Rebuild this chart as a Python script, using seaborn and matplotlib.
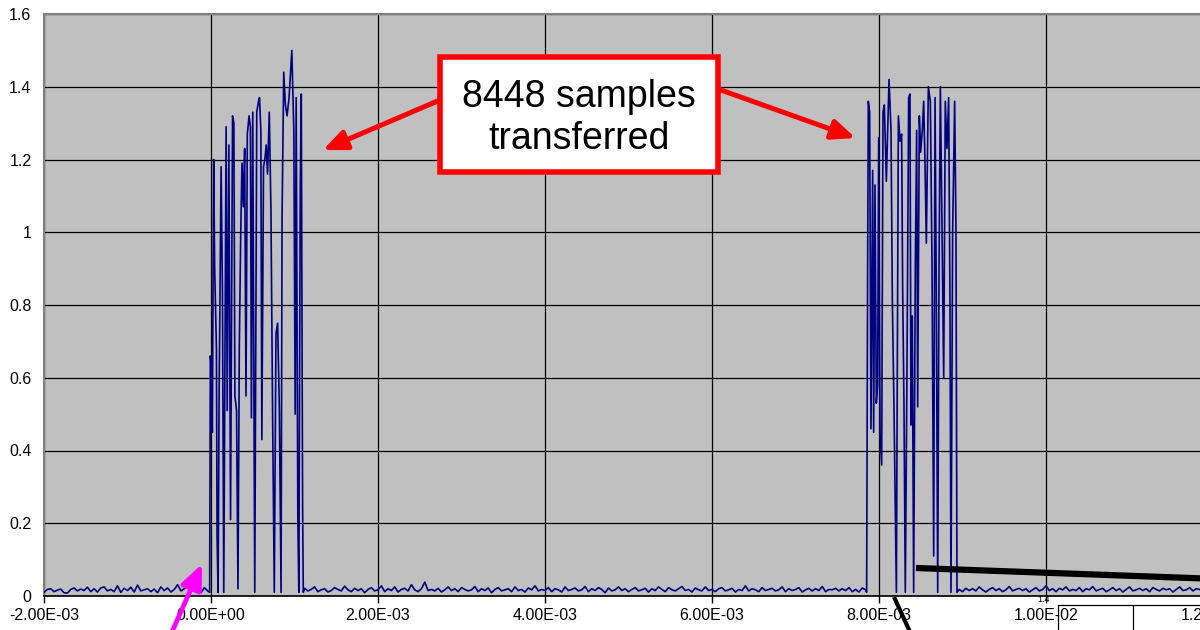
import matplotlib
matplotlib.use("Agg")
import matplotlib.pyplot as plt
from matplotlib.patches import Rectangle
from matplotlib.lines import Line2D
import numpy as np
import pandas as pd
import seaborn as sns

# baseline noise between the bursts (thousandths)
noise_pre = [10, 18, 20, 12, 16, 19, 9, 8, 18, 22, 14, 19, 15, 24, 12, 20, 11, 22, 25, 14,
             18, 12, 28, 10, 21, 15, 24, 11, 30, 14, 17, 20, 12, 19, 9, 25, 15, 22, 11, 18,
             31, 14, 20, 27, 12, 34, 17, 9, 23, 14]
noise_mid = [21, 14, 18, 25, 12, 17, 20, 11, 15, 23, 18, 14, 27, 17, 12, 21, 15, 20, 9, 18,
             23, 14, 17, 28, 12, 20, 15, 25, 11, 18, 21, 14, 31, 17, 12, 20, 38, 15, 18, 14,
             21, 11, 17, 25, 15, 20, 12, 23, 18, 14, 17, 26, 12, 20, 15, 22, 9, 18, 23, 14,
             17, 20, 12, 25, 15, 18, 11, 22, 17, 28, 14, 18, 15, 23, 12, 20, 17, 11, 25, 15,
             18, 22, 14, 17, 26, 12, 20, 15, 23, 18, 9, 22, 14, 17, 25, 15, 20, 12, 18, 23,
             14, 17, 21, 11, 20, 15, 25, 18, 12, 23, 17, 14, 20, 26, 15, 18, 11, 22, 17, 14,
             25, 15, 18, 12, 20, 23, 14, 17, 21, 11, 18, 15, 28, 14, 20, 17, 12, 23, 15, 18,
             21, 14, 17, 25, 12, 20, 15, 18, 23, 11, 17, 21, 14, 20, 15, 26, 12, 18, 17, 21,
             14, 20, 15, 23, 12, 18, 11, 22, 17]
noise_post = [18, 12, 21, 15, 20, 14, 25, 17, 11, 18, 23, 15, 20, 12, 17, 26, 14, 18, 21, 15,
              20, 11, 17, 23, 14, 18, 28, 15, 20, 12, 21, 17, 25, 14, 18, 15, 23, 12, 20, 17,
              26, 14, 18, 21, 12, 17, 23, 15, 20, 11, 18, 25, 14, 17, 21, 15, 20, 12, 23, 18,
              14, 21, 17, 20, 11, 18, 25, 15, 17, 23, 14, 20, 18, 12, 21, 15, 17, 20, 14, 18,
              23, 15, 17, 21, 12, 20, 14]

# first burst, time in ms
burst1_t = [-0.016, -0.008, 0.004, 0.016, 0.032, 0.044, 0.065, 0.073, 0.085, 0.097,
            0.121, 0.137, 0.153, 0.181, 0.194, 0.214, 0.234, 0.258, 0.274, 0.286,
            0.306, 0.323, 0.339, 0.355, 0.371, 0.387, 0.403, 0.419, 0.435, 0.456,
            0.472, 0.484, 0.5, 0.524, 0.548, 0.569, 0.581, 0.597, 0.609, 0.629,
            0.645, 0.661, 0.677, 0.698, 0.718, 0.738, 0.758, 0.778, 0.798, 0.819,
            0.839, 0.851, 0.871, 0.891, 0.911, 0.935, 0.968, 0.992, 1.008, 1.02,
            1.04, 1.052, 1.069, 1.081, 1.097, 1.105]
burst1_v = [0.01, 0.66, 0.63, 0.45, 1.2, 0.9, 0.68, 0.16, 0.01, 0.55,
            1.18, 0.84, 0.01, 1.29, 0.51, 1.24, 0.21, 1.32, 1.3, 0.55,
            0.51, 0.02, 0.68, 0.98, 1.19, 1.07, 1.23, 0.55, 1.27, 1.32,
            1.29, 0.49, 1.33, 0.01, 1.33, 1.36, 1.37, 1.28, 0.43, 1.18,
            1.2, 1.24, 1.16, 1.33, 1.06, 0.49, 0.01, 0.72, 0.75, 0.51,
            0.01, 1.04, 1.44, 1.35, 1.32, 1.37, 1.5, 1.28, 0.5, 1.37,
            0.21, 0.01, 1.12, 1.38, 0.25, 0.01]

# second burst, time in ms
burst2_t = [7.852, 7.864, 7.872, 7.888, 7.904, 7.924, 7.936, 7.952, 7.968, 7.984,
            7.996, 8.012, 8.032, 8.048, 8.064, 8.088, 8.104, 8.12, 8.144, 8.16,
            8.18, 8.208, 8.232, 8.252, 8.271, 8.283, 8.299, 8.315, 8.335, 8.355,
            8.371, 8.383, 8.399, 8.415, 8.435, 8.451, 8.463, 8.483, 8.499, 8.519,
            8.535, 8.551, 8.567, 8.591, 8.615, 8.635, 8.655, 8.671, 8.687, 8.703,
            8.719, 8.735, 8.755, 8.775, 8.794, 8.814, 8.834, 8.85, 8.862, 8.882,
            8.906, 8.922, 8.934]
burst2_v = [0.01, 0.91, 1.36, 1.33, 0.46, 1.17, 0.45, 1.13, 0.53, 0.58,
            1.26, 0.45, 0.36, 1.33, 1.35, 1.14, 1.28, 1.42, 1.28, 0.81,
            0.51, 0.01, 1.32, 1.25, 1.27, 0.85, 0.53, 0.01, 0.62, 1.37,
            1.38, 0.47, 0.77, 0.01, 0.91, 1.28, 0.52, 1.32, 1.22, 1.28,
            1.36, 1.19, 0.97, 1.4, 1.36, 0.91, 0.11, 1.37, 0.81, 0.01,
            0.91, 1.4, 1.0, 0.6, 1.36, 1.23, 1.37, 0.81, 0.01, 1.0,
            1.36, 1.0, 0.01]

x_ticks = [-0.002, 0.0, 0.002, 0.004, 0.006, 0.008, 0.010, 0.012, 0.014]
y_ticks = [0, 0.2, 0.4, 0.6, 0.8, 1.0, 1.2, 1.4, 1.6]
note_text = "8448 samples\ntransferred"

t = np.concatenate([np.linspace(-2.0, -0.04, len(noise_pre)), burst1_t,
                    np.linspace(1.12, 7.84, len(noise_mid)), burst2_t,
                    np.linspace(8.96, 12.4, len(noise_post))]) * 1e-3
v = np.concatenate([np.array(noise_pre) / 1000, burst1_v,
                    np.array(noise_mid) / 1000, burst2_v,
                    np.array(noise_post) / 1000])
df = pd.DataFrame({'t': t, 'v': v})

sns.set_style('white')
plt.rcParams['font.family'] = ['Liberation Sans', 'DejaVu Sans']
plt.rcParams['text.color'] = 'black'
plt.rcParams['xtick.color'] = 'black'
plt.rcParams['ytick.color'] = 'black'

fig = plt.figure(figsize=(12, 6.3), dpi=100)
ax = fig.add_axes([44 / 1200, 34 / 630, 1336 / 1200, 582 / 630])
ax.set_facecolor('#c0c0c0')
sns.lineplot(data=df, x='t', y='v', sort=False, estimator=None,
             color='#000080', lw=1.2, ax=ax, zorder=3)
ax.set_xlim(-0.002, 0.014)
ax.set_ylim(0, 1.6)
ax.set_xticks(x_ticks)
ax.set_xticklabels([f"{x:.2E}" for x in x_ticks])
ax.set_yticks(y_ticks)
ax.set_yticklabels([f"{y:g}" for y in y_ticks])
ax.set_xlabel('')
ax.set_ylabel('')
ax.grid(True, color='black', lw=0.9)
ax.set_axisbelow(True)
ax.tick_params(axis='x', length=5, width=1, color='black', labelsize=11.5, pad=4,
               direction='out', bottom=True)
ax.tick_params(axis='y', length=0, labelsize=11.5, pad=9)
for s in ['left', 'top']:
    ax.spines[s].set_color('#808080')
    ax.spines[s].set_linewidth(1.5)
ax.spines['bottom'].set_color('black')
ax.spines['bottom'].set_linewidth(1.2)
ax.spines['right'].set_visible(False)

# callout box
fig.add_artist(Rectangle((440 / 1200, 1 - 172 / 630), 278 / 1200, 115 / 630,
                         transform=fig.transFigure, fc='white', ec='#ff0000', lw=4, zorder=5))
fig.text(579 / 1200, 1 - 118 / 630, note_text, ha='center', va='center',
         fontsize=27, linespacing=1.22, color='black', zorder=6)

red = dict(arrowstyle='-|>,head_length=1.4,head_width=0.6', lw=3.6, color='#ff0000',
           shrinkA=0, shrinkB=0)
ax.annotate('', xy=(0.00134, 1.226), xycoords='data',
            xytext=(440, 630 - 100), textcoords='figure pixels', arrowprops=red, zorder=6)
ax.annotate('', xy=(0.00772, 1.259), xycoords='data',
            xytext=(718, 630 - 89), textcoords='figure pixels', arrowprops=red, zorder=6)
ax.annotate('', xy=(-0.000108, 0.088), xycoords='data',
            xytext=(164, -20), textcoords='figure pixels', annotation_clip=False,
            arrowprops=dict(arrowstyle='-|>,head_length=1.5,head_width=0.65', lw=3.4,
                            color='#ff00ff', shrinkA=0, shrinkB=0), zorder=6)

# black pointer lines and corner of the pasted inset
fig.add_artist(Line2D([916 / 1200, 1300 / 1200], [1 - 568 / 630, 1 - 582 / 630],
                      transform=fig.transFigure, color='black', lw=4.5, solid_capstyle='butt'))
fig.add_artist(Line2D([894 / 1200, 916 / 1200], [1 - 597 / 630, 1 - 645 / 630],
                      transform=fig.transFigure, color='black', lw=3, solid_capstyle='butt'))
for xs, ys in [([1058, 1200], [605, 605]), ([1058, 1058], [605, 630]), ([1133, 1133], [605, 630])]:
    fig.add_artist(Line2D([x / 1200 for x in xs], [1 - y / 630 for y in ys],
                          transform=fig.transFigure, color='black', lw=0.9))
fig.text(1044 / 1200, 1 - 604 / 630, "1.4", ha='center', va='bottom', fontsize=6.5)

fig.savefig('out.png', dpi=100)
